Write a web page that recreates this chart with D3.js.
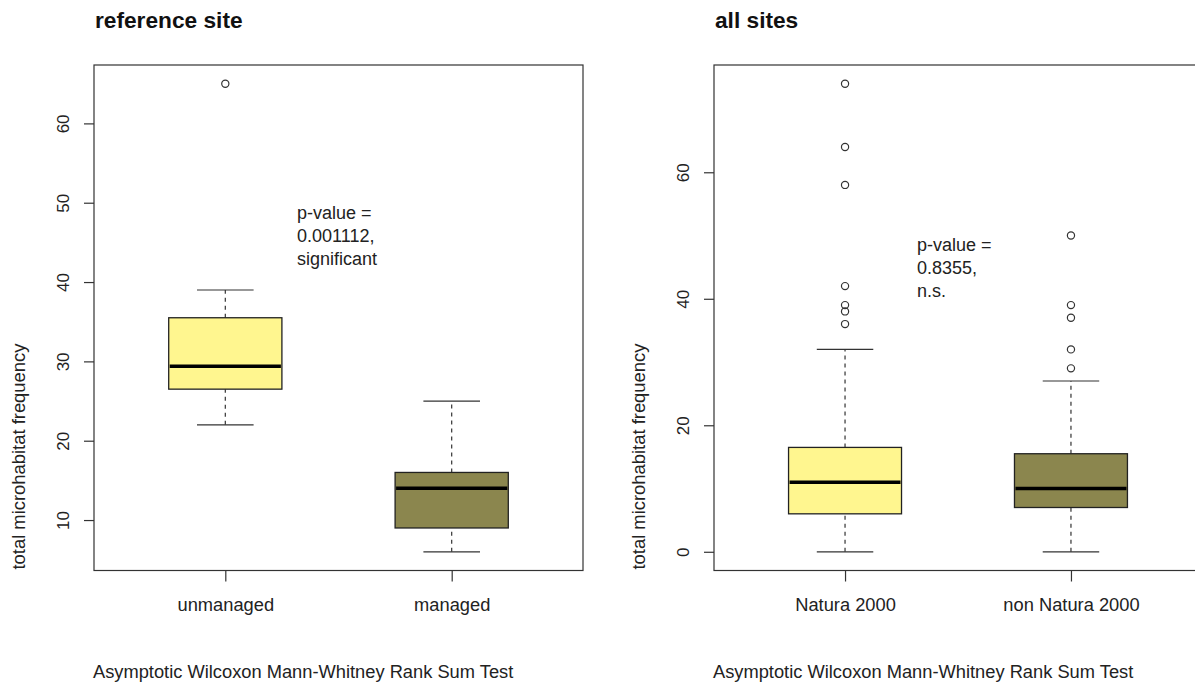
<!DOCTYPE html>
<html>
<head>
<meta charset="utf-8">
<script src="https://cdn.jsdelivr.net/npm/d3@7"></script>
<style>
  html, body { margin: 0; padding: 0; background: #fff; }
  svg { display: block; font-family: "Liberation Sans", Arial, sans-serif; }
</style>
</head>
<body>
<svg id="chart" width="1195" height="684"></svg>
<script>
// Box summaries: [lower whisker, lower hinge, median, upper hinge, upper whisker]
const refCategories = ["unmanaged", "managed"];
const refStats = [
  [22, 26.5, 29.4, 35.5, 39],
  [6, 9, 14, 16, 25]
];
const refOutliers = [[65], []];
const refTicks = [10, 20, 30, 40, 50, 60];
const refP = ["p-value =", "0.001112,", "significant"];

const allCategories = ["Natura 2000", "non Natura 2000"];
const allStats = [
  [0, 6, 11, 16.5, 32],
  [0, 7, 10, 15.5, 27]
];
const allOutliers = [[74, 64, 58, 42, 39, 38, 36], [50, 39, 37, 32, 29]];
const allTicks = [0, 20, 40, 60];
const allP = ["p-value =", "0.8355,", "n.s."];

const fills = ["#FFF68F", "#8B864E"];
const yLabel = "total microhabitat frequency";
const subTitle = "Asymptotic Wilcoxon Mann-Whitney Rank Sum Test";

const svg = d3.select("#chart");

function panel(opts) {
  const { left, right, top, bottom, title, categories, stats, outliers, ticks, pText, pAt } = opts;
  const g = svg.append("g");

  // R-style 4% padding around the data range
  const vals = stats.flat().concat(outliers.flat());
  const lo = d3.min(vals), hi = d3.max(vals), pad = (hi - lo) * 0.04;
  const y = d3.scaleLinear().domain([lo - pad, hi + pad]).range([bottom, top]);
  const x = d3.scaleLinear().domain([0.42, categories.length + 0.58]).range([left, right]);
  const boxW = x(1.5) - x(1);   // box width in px (0.5 units)
  const capW = boxW / 2;

  // frame
  g.append("rect")
    .attr("x", left).attr("y", top)
    .attr("width", right - left).attr("height", bottom - top)
    .attr("fill", "none").attr("stroke", "#333").attr("stroke-width", 1.2);

  // y axis
  const yAxis = d3.axisLeft(y).tickValues(ticks).tickSize(10).tickPadding(0).tickFormat(d3.format("d"));
  const ya = g.append("g").attr("transform", `translate(${left},0)`).call(yAxis);
  ya.select(".domain").remove();
  ya.selectAll(".tick line").attr("stroke", "#333").attr("stroke-width", 1.2);
  ya.selectAll(".tick text").remove();
  ya.selectAll(".tick").append("text")
    .attr("transform", "translate(-31,0) rotate(-90)")
    .attr("text-anchor", "middle").attr("dy", "0.35em")
    .attr("fill", "#222").style("font-size", "17px")
    .text(d => d);

  // x axis
  const xAxis = d3.axisBottom(x).tickValues(categories.map((_, i) => i + 1)).tickSize(11).tickPadding(0);
  const xa = g.append("g").attr("transform", `translate(0,${bottom})`).call(xAxis);
  xa.select(".domain").remove();
  xa.selectAll(".tick line").attr("stroke", "#333").attr("stroke-width", 1.2);
  xa.selectAll(".tick text")
    .attr("y", 40).attr("dy", 0)
    .attr("fill", "#222").style("font-size", "18.3px")
    .text((d, i) => categories[i]);

  // boxes
  stats.forEach((s, i) => {
    const cx = x(i + 1);
    const bg = g.append("g");
    // whiskers
    [[s[0], s[1]], [s[3], s[4]]].forEach(([a, b]) => {
      bg.append("line").attr("x1", cx).attr("x2", cx).attr("y1", y(a)).attr("y2", y(b))
        .attr("stroke", "#333").attr("stroke-width", 1.2).attr("stroke-dasharray", "4,4");
    });
    [s[0], s[4]].forEach(v => {
      bg.append("line").attr("x1", cx - capW / 2).attr("x2", cx + capW / 2)
        .attr("y1", y(v)).attr("y2", y(v))
        .attr("stroke", "#333").attr("stroke-width", 1.2);
    });
    bg.append("rect")
      .attr("x", cx - boxW / 2).attr("y", y(s[3]))
      .attr("width", boxW).attr("height", y(s[1]) - y(s[3]))
      .attr("fill", fills[i]).attr("stroke", "#222").attr("stroke-width", 1.3);
    bg.append("line").attr("x1", cx - boxW / 2 + 1).attr("x2", cx + boxW / 2 - 1)
      .attr("y1", y(s[2])).attr("y2", y(s[2]))
      .attr("stroke", "#000").attr("stroke-width", 3.5);
    bg.selectAll("circle").data(outliers[i]).join("circle")
      .attr("cx", cx).attr("cy", d => y(d)).attr("r", 3.6)
      .attr("fill", "none").attr("stroke", "#333").attr("stroke-width", 1.2);
  });

  // title
  g.append("text").attr("x", left + 1).attr("y", 28)
    .style("font-size", "22.7px").style("font-weight", "bold").attr("fill", "#111")
    .text(title);

  // y label
  g.append("text")
    .attr("transform", `translate(${left - 69},${bottom - 1}) rotate(-90)`)
    .attr("text-anchor", "start").attr("fill", "#222").style("font-size", "18.4px")
    .text(yLabel);

  // subtitle
  g.append("text").attr("x", left - 1).attr("y", 678)
    .attr("fill", "#222").style("font-size", "18.3px")
    .text(subTitle);

  // p-value annotation
  const pt = g.append("text").attr("fill", "#222").style("font-size", "18px");
  pText.forEach((t, k) => {
    pt.append("tspan").attr("x", pAt[0]).attr("y", pAt[1] + k * 23).text(t);
  });
}

panel({
  left: 94, right: 583, top: 65, bottom: 570.5, title: "reference site",
  categories: refCategories, stats: refStats, outliers: refOutliers,
  ticks: refTicks, pText: refP, pAt: [297, 219]
});
panel({
  left: 714, right: 1202, top: 65, bottom: 570.5, title: "all sites",
  categories: allCategories, stats: allStats, outliers: allOutliers,
  ticks: allTicks, pText: allP, pAt: [917, 251]
});
</script>
</body>
</html>
